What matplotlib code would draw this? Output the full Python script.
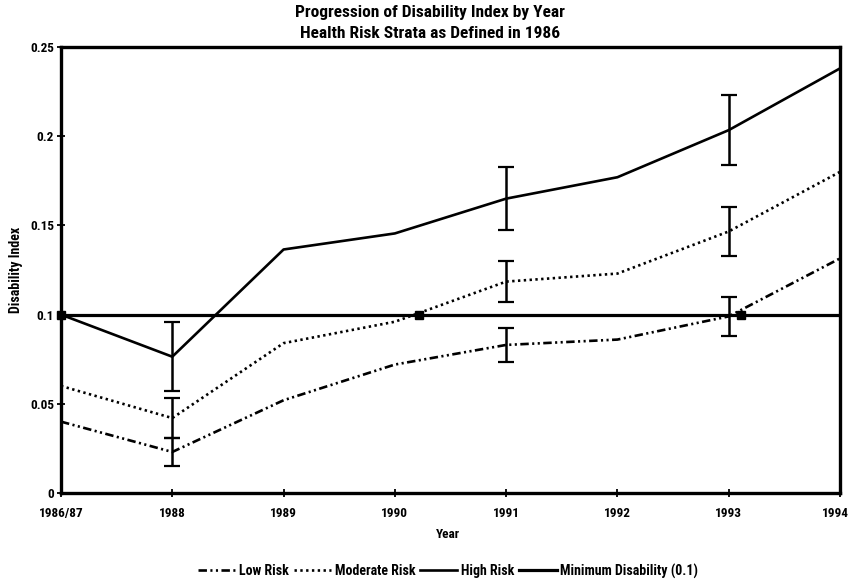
import numpy as np
import matplotlib
matplotlib.use("Agg")
import matplotlib.pyplot as plt
from matplotlib.transforms import ScaledTranslation

plt.rcParams['font.family'] = ['Roboto Condensed', 'DejaVu Sans']
plt.rcParams['font.weight'] = 'bold'

# Survey years and disability index by 1986 health risk stratum
years = ["1986/87", "1988", "1989", "1990", "1991", "1992", "1993", "1994"]
low_risk = [0.040, 0.023, 0.052, 0.072, 0.083, 0.086, 0.099, 0.1315]
moderate_risk = [0.060, 0.042, 0.084, 0.096, 0.1185, 0.123, 0.1466, 0.180]
high_risk = [0.100, 0.0764, 0.1365, 0.1455, 0.165, 0.177, 0.2034, 0.238]
minimum_disability = 0.1

# Confidence intervals shown for selected years
err_years = ["1988", "1991", "1993"]
low_err = [0.008, 0.0095, 0.011]
moderate_err = [0.011, 0.0115, 0.0135]
high_err = [0.0195, 0.0175, 0.0195]

# Points where each stratum reaches the minimum disability level
min_marks = [0.0, 3.22, 6.11]

x = np.arange(len(years))
err_idx = [years.index(y) for y in err_years]

W, H = 851, 579
fig = plt.figure(figsize=(W / 100, H / 100), dpi=100)
ax = fig.add_axes([61 / W, 1 - 493 / H, 779 / W, 446 / H])

lw = 1.9
ln_low, = ax.plot(x, low_risk, color='black', lw=lw,
                  dashes=(3.2, 1.3, 0.8, 1.3, 0.8, 1.3), label='Low Risk')
ln_mod, = ax.plot(x, moderate_risk, color='black', lw=lw,
                  dashes=(0.9, 1.3), label='Moderate Risk')
ln_high, = ax.plot(x, high_risk, color='black', lw=lw, label='High Risk')
ln_min, = ax.plot([x[0], x[-1]], [minimum_disability] * 2, color='black',
                  lw=2.3, label='Minimum Disability (0.1)')
ax.plot(min_marks, [minimum_disability] * len(min_marks), ls='none',
        marker='s', ms=6, color='black', clip_on=False, zorder=5)

for series, err in [(low_risk, low_err), (moderate_risk, moderate_err),
                    (high_risk, high_err)]:
    ax.errorbar(x[err_idx], [series[i] for i in err_idx], yerr=err,
                fmt='none', ecolor='black', elinewidth=1.8, capsize=5.5,
                capthick=1.6)

ax.set_xlim(0, 7)
ax.set_ylim(0, 0.25)
ax.set_xticks(x)
ax.set_xticklabels(years)
ax.set_yticks([0, 0.05, 0.1, 0.15, 0.2, 0.25])
ax.set_yticklabels(["0", "0.05", "0.1", "0.15", "0.2", "0.25"])
ax.tick_params(direction='inout', length=6, width=1.3, labelsize=9.5)
ax.tick_params(axis='x', pad=7)
ax.tick_params(axis='y', pad=2)

# keep the last year label inside the figure edge
last = ax.get_xticklabels()[-1]
last.set_transform(last.get_transform()
                   + ScaledTranslation(-5 / 100, 0, fig.dpi_scale_trans))

for s in ax.spines.values():
    s.set_linewidth(2.4)

fig.text(448 / W, 1 - 534 / H, "Year", ha='center', va='center',
         fontsize=9.5, fontweight='bold')
fig.text(16 / W, 1 - 270 / H, "Disability Index", ha='center', va='center',
         rotation=90, fontsize=10, fontweight='bold')

fig.text(430 / W, 1 - 13 / H, "Progression of Disability Index by Year",
         ha='center', va='center', fontsize=12.5, fontweight='bold')
fig.text(430 / W, 1 - 33 / H, "Health Risk Strata as Defined in 1986",
         ha='center', va='center', fontsize=12.5, fontweight='bold')

fig.legend(handles=[ln_low, ln_mod, ln_high, ln_min], loc='center',
           bbox_to_anchor=(448 / W, 1 - 571 / H), ncol=4, frameon=False,
           fontsize=10, handlelength=2.7, handletextpad=0.25,
           columnspacing=0.35, borderaxespad=0)

fig.savefig("out.png", dpi=100)
